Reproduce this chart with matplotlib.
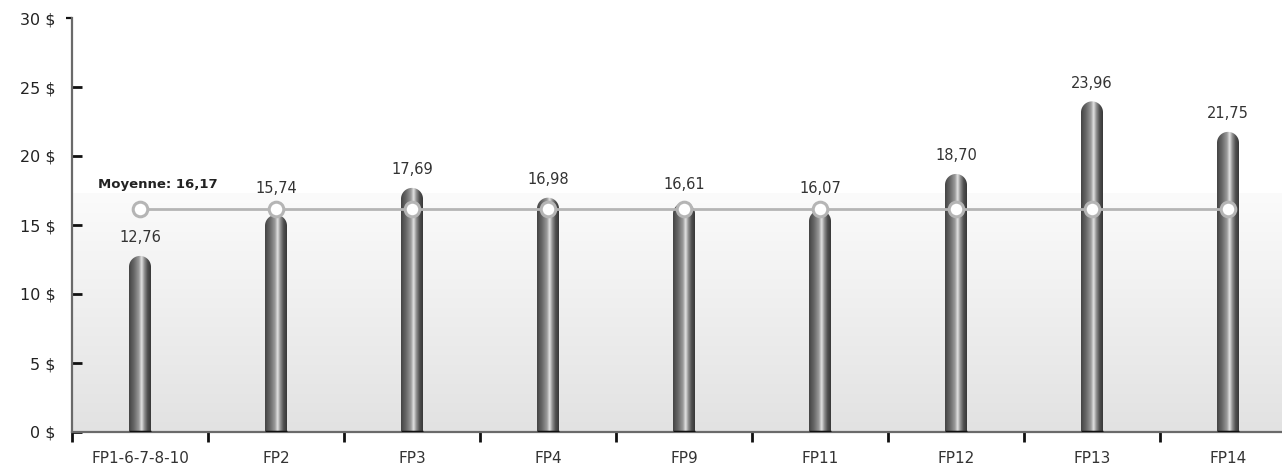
import numpy as np
import matplotlib

matplotlib.use("Agg")
import matplotlib.pyplot as plt
from matplotlib.colors import LinearSegmentedColormap
from matplotlib.lines import TICKLEFT
from matplotlib.patches import PathPatch
from matplotlib.path import Path

categories = ["FP1-6-7-8-10", "FP2", "FP3", "FP4", "FP9", "FP11", "FP12", "FP13", "FP14"]
values = [12.76, 15.74, 17.69, 16.98, 16.61, 16.07, 18.70, 23.96, 21.75]
average = 16.17
y_ticks = [0, 5, 10, 15, 20, 25, 30]


def fr(v):
    return f"{v:.2f}".replace(".", ",")


fig = plt.figure(figsize=(12.82, 4.66), dpi=100)
fig.patch.set_facecolor("white")
ax = fig.add_axes((72 / 1282, 1 - 432 / 466, 1 - 72 / 1282, (432 - 18) / 466))

x = np.arange(len(categories))
xmin, xmax = -0.5, -0.5 + 1210 / 136
ax.set_xlim(xmin, xmax)
ax.set_ylim(0, 30)
ax.set_facecolor("white")

# soft grey wash behind the lower half
bg = LinearSegmentedColormap.from_list("bg", ["#e2e2e2", "#fbfbfb"])
ax.imshow(np.linspace(0, 1, 256).reshape(-1, 1), extent=[xmin, xmax, 0, 17.3],
          origin="lower", aspect="auto", cmap=bg, zorder=0)

# cylinder shading for the bars
shade = LinearSegmentedColormap.from_list(
    "cyl", [(0.0, "#444444"), (0.22, "#666666"), (0.45, "#9a9a9a"), (0.58, "#e2e2e2"),
            (0.7, "#929292"), (0.85, "#505050"), (1.0, "#383838")])
grad = np.linspace(0, 1, 128).reshape(1, -1)

w = 22 / 136
px_x = ax.transData.transform((1, 0))[0] - ax.transData.transform((0, 0))[0]
px_y = ax.transData.transform((0, 1))[1] - ax.transData.transform((0, 0))[1]
ry = (w / 2) * px_x / px_y

t = np.linspace(0, np.pi, 40)
for xi, v in zip(x, values):
    im = ax.imshow(grad, extent=[xi - w / 2, xi + w / 2, 0, v], aspect="auto",
                   cmap=shade, zorder=2)
    cap_x = xi + (w / 2) * np.cos(t)
    cap_y = v - ry + ry * np.sin(t)
    verts = [(xi + w / 2, 0)] + list(zip(cap_x, cap_y)) + [(xi - w / 2, 0), (xi + w / 2, 0)]
    clip = PathPatch(Path(verts, closed=True), transform=ax.transData,
                     facecolor="none", edgecolor="none")
    ax.add_patch(clip)
    im.set_clip_path(clip)
    ax.hlines(0, xi - w / 2, xi + w / 2, color="#111111", lw=2.5, zorder=3)

    ly = v + 1.3
    if average - 1.2 < ly < average + 1.45:
        ly = average + 1.45
    ax.text(xi, ly, fr(v), ha="center", va="center", fontsize=10.5, color="#333333", zorder=5)

ax.set_xlim(xmin, xmax)
ax.set_ylim(0, 30)

# average line with ring markers
ax.plot(x, [average] * len(x), color="#b5b5b5", lw=2, marker="o", ms=10.5,
        mfc="white", mec="#b5b5b5", mew=2.2, zorder=4)
ax.text(x[0] - 0.31, average + 1.75, f"Moyenne: {fr(average)}", ha="left", va="center",
        fontsize=9.5, fontweight="bold", color="#222222", zorder=5)

for s in ["top", "right"]:
    ax.spines[s].set_visible(False)
for s in ["left", "bottom"]:
    ax.spines[s].set_color("#6a6a6a")
    ax.spines[s].set_linewidth(1.6)

ax.set_yticks(y_ticks)
ax.set_yticklabels([f"{t} $" for t in y_ticks])
ax.tick_params(axis="y", direction="in", length=7.5, width=2, color="#111111",
               pad=12, labelsize=11.5, labelcolor="#222222")
top_tick = ax.yaxis.get_major_ticks()[-1]
top_tick.tick1line.set_marker(TICKLEFT)
top_tick.tick1line.set_markersize(4)
top_tick.tick1line.set_markeredgewidth(1.6)
top_tick.tick1line.set_color("#6a6a6a")

ax.set_xticks(np.arange(-0.5, len(categories) - 1, 1.0))
ax.set_xticklabels([])
ax.tick_params(axis="x", which="major", direction="out", length=7, width=2, color="#111111")
ax.set_xticks(x, minor=True)
ax.set_xticklabels(categories, minor=True)
ax.tick_params(axis="x", which="minor", length=0, pad=14, labelsize=11, labelcolor="#333333")

fig.savefig("out.png", dpi=100)
